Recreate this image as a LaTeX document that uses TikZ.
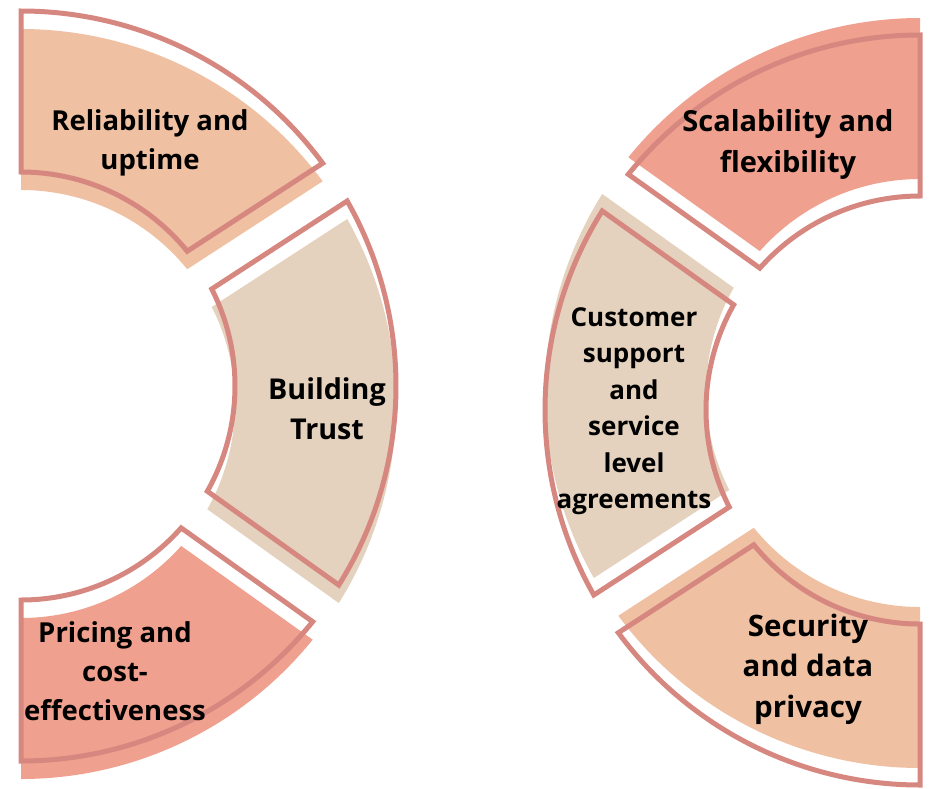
\documentclass[tikz,border=0pt]{standalone}
\usepackage{fontspec}
\setmainfont{Open Sans}
\definecolor{peach}{HTML}{EFC0A1}
\definecolor{salmon}{HTML}{F0A08E}
\definecolor{beige}{HTML}{E4D2BE}
\definecolor{rose}{HTML}{D6877F}
\tikzset{
  outl/.style={draw=rose, line width=5pt, line join=miter},
  lbl/.style={align=center, text=black, inner sep=0pt},
}
\newcommand{\fsz}[2]{\fontsize{#1}{#2}\selectfont\bfseries}
% sector: #1 outer start, #2 outer end, #3 inner start, #4 inner end
\newcommand{\secpath}[4]{(#1:375) arc[start angle=#1, end angle=#2, radius=375] -- (#3:214) arc[start angle=#3, end angle=#4, radius=214] -- cycle}
\begin{document}
\begin{tikzpicture}[x=1pt,y=1pt]
\useasboundingbox (0,0) rectangle (940,-788);
\coordinate (CL) at (21,-386);
\coordinate (CR) at (920,-410);
% left group fills (shifted down)
\begin{scope}[shift={(21,-404)}]
  \fill[peach]  \secpath{90}{36.44}{39.04}{90};
  \fill[beige]  \secpath{29.56}{-32.06}{-29.46}{26.96};
  \fill[salmon] \secpath{-38.94}{-90}{-90}{-41.54};
\end{scope}
\begin{scope}[shift={(CL)}]
  \draw[outl] \secpath{90}{36.44}{39.04}{90};
  \draw[outl] \secpath{29.56}{-32.06}{-29.46}{26.96};
  \draw[outl] \secpath{-38.94}{-90}{-90}{-41.54};
\end{scope}
% right group fills (shifted up)
\begin{scope}[shift={(920,-393)}]
  \fill[peach]  \secpath{270}{216.44}{219.04}{270};
  \fill[beige]  \secpath{209.56}{147.94}{150.54}{206.96};
  \fill[salmon] \secpath{141.06}{90}{90}{138.46};
\end{scope}
\begin{scope}[shift={(CR)}]
  \draw[outl] \secpath{270}{216.44}{219.04}{270};
  \draw[outl] \secpath{209.56}{147.94}{150.54}{206.96};
  \draw[outl] \secpath{141.06}{90}{90}{138.46};
\end{scope}
% labels
\node[lbl, font=\fsz{27.5}{39}] (rel)   at (150,-143) {Reliability and\\uptime};
\node[lbl, font=\fsz{28.7}{40}] (trust) at (327,-409) {Building\\Trust};
\node[lbl, font=\fsz{27.5}{39}] (price) at (115,-671) {Pricing and\\cost-\\effectiveness};
\node[lbl, font=\fsz{29}{41}] (scal)  at (788,-144) {Scalability and\\flexibility};
\node[lbl, font=\fsz{26}{36.5}] (cust) at (634,-411) {Customer\\support\\ and\\service\\level\\agreements};
\node[lbl, font=\fsz{29.5}{40.5}] (sec)   at (808,-669) {Security\\and data\\privacy};
\end{tikzpicture}
\end{document}
